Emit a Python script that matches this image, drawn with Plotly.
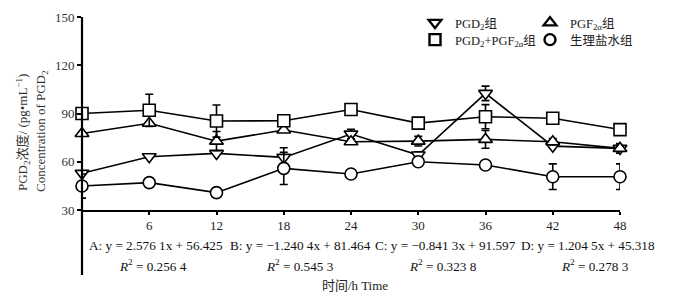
import plotly.graph_objects as go

time_h = [0, 6, 12, 18, 24, 30, 36, 42, 48]

pgd2 = [52.8, 63.1, 65.2, 62.7, 77.2, 64.2, 102.5, 69.7, 68.3]
pgd2_err = [0, 0, 0, 6, 3, 2, 4.5, 0, 2]
pgf2a = [77.6, 83.9, 72.8, 79.7, 72.4, 72.8, 73.9, 72.4, 68.3]
pgf2a_err = [0, 0, 6, 0, 0, 3, 5.5, 2, 3]
combo = [90, 92, 85.3, 85.5, 92.5, 84, 88, 87, 80]
combo_err = [0, 10, 10, 0, 3, 0, 7.5, 0, 0]
saline = [44.9, 47, 40.8, 55.9, 52.4, 60, 58, 50.7, 50.7]
saline_err = [7.5, 0, 2, 10, 0, 2, 0, 8, 8]

series_names = ["PGD<sub>2</sub>组", "PGF<sub>2α</sub>组", "PGD<sub>2</sub>+PGF<sub>2α</sub>组", "生理盐水组"]
series_symbols = ["triangle-down", "triangle-up", "square", "circle"]
series_legend = ["legend", "legend2", "legend3", "legend4"]

x_ticks = [6, 12, 18, 24, 30, 36, 42, 48]
y_ticks = [30, 60, 90, 120, 150]

eq_lines = ["A: y = 2.576 1x + 56.425", "B: y = \u22121.240 4x + 81.464",
            "C: y = \u22120.841 3x + 91.597", "D: y = 1.204 5x + 45.318"]
r2_lines = ["<i>R</i><sup>2</sup> = 0.256 4", "<i>R</i><sup>2</sup> = 0.545 3",
            "<i>R</i><sup>2</sup> = 0.323 8", "<i>R</i><sup>2</sup> = 0.278 3"]

FONT = "Liberation Serif, Noto Sans CJK SC, serif"
W, H = 673, 299
L, R, T, B = 82, 53, 17, 89
PW, PH = W - L - R, H - T - B

fig = go.Figure()
datasets = [(pgd2, pgd2_err), (pgf2a, pgf2a_err), (combo, combo_err), (saline, saline_err)]
for (vals, err), sym in zip(datasets, series_symbols):
    fig.add_trace(go.Scatter(
        x=time_h, y=vals, mode="lines+markers", showlegend=False, cliponaxis=False,
        line=dict(color="black", width=1.6),
        marker=dict(symbol=sym, size=12, color="white", line=dict(color="black", width=1.6)),
        error_y=dict(type="data", array=err, color="black", thickness=1.6, width=4),
    ))

for name, sym, lg in zip(series_names, series_symbols, series_legend):
    fig.add_trace(go.Scatter(
        x=[None], y=[None], mode="markers", name=name, showlegend=True, legend=lg,
        marker=dict(symbol=sym, size=11, color="white", line=dict(color="black", width=2.4)),
    ))

legend_common = dict(orientation="v", xanchor="left", yanchor="top",
                     xref="container", yref="container", itemwidth=30,
                     tracegroupgap=0, bgcolor="rgba(0,0,0,0)",
                     font=dict(family=FONT, size=12.5, color="#222"))

col_x = [415, 530]
row_y = [8, 25]
fig.update_layout(
    width=W, height=H,
    margin=dict(l=L, r=R, t=T, b=B, autoexpand=False),
    paper_bgcolor="white", plot_bgcolor="white",
    font=dict(family=FONT, size=13, color="#222"),
    showlegend=True,
    legend=dict(x=col_x[0] / W, y=1 - row_y[0] / H, **legend_common),
    legend2=dict(x=col_x[1] / W, y=1 - row_y[0] / H, **legend_common),
    legend3=dict(x=col_x[0] / W, y=1 - row_y[1] / H, **legend_common),
    legend4=dict(x=col_x[1] / W, y=1 - row_y[1] / H, **legend_common),
    xaxis=dict(range=[0, 48], tickvals=x_ticks, showgrid=False, zeroline=False,
               showline=True, linecolor="black", linewidth=1.5, automargin=False,
               ticks="outside", ticklen=3, tickcolor="black", tickwidth=1.5,
               tickfont=dict(family=FONT, size=13, color="#222")),
    yaxis=dict(range=[30, 150], tickvals=y_ticks, showgrid=False, zeroline=False,
               showline=False, automargin=False,
               ticks="outside", ticklen=4, tickcolor="black", tickwidth=1.5,
               tickfont=dict(family=FONT, size=13, color="#333")),
)

# y axis line extended below the x axis
fig.add_shape(type="line", xref="paper", yref="paper", x0=0, x1=0, y0=1.0, y1=-(275 - 210) / PH,
              line=dict(color="black", width=2.2))

# y axis title (two lines)
fig.add_annotation(text="PGD<sub>2</sub>浓度/ (pg•mL<sup>\u22121</sup>)", xref="paper", yref="paper",
                   x=(23 - L) / PW, y=1 - (133 - T) / PH, textangle=-90, showarrow=False,
                   xanchor="center", yanchor="middle",
                   font=dict(family=FONT, size=13, color="#333"))
fig.add_annotation(text="Concentration of PGD<sub>2</sub>", xref="paper", yref="paper",
                   x=(41 - L) / PW, y=1 - (131 - T) / PH, textangle=-90, showarrow=False,
                   xanchor="center", yanchor="middle",
                   font=dict(family=FONT, size=13, color="#333"))

eq_x_px = [87, 228, 373, 519]
r2_x_px = [153, 300, 443, 595]
for t, px in zip(eq_lines, eq_x_px):
    fig.add_annotation(text=t, xref="paper", yref="paper", x=(px - L) / PW, y=-(245 - 210) / PH,
                       xanchor="left", yanchor="middle", showarrow=False,
                       font=dict(family=FONT, size=13.2, color="#111"))
for t, px in zip(r2_lines, r2_x_px):
    fig.add_annotation(text=t, xref="paper", yref="paper", x=(px - L) / PW, y=-(265 - 210) / PH,
                       xanchor="center", yanchor="middle", showarrow=False,
                       font=dict(family=FONT, size=13.2, color="#111"))

fig.add_annotation(text="时间/h Time", xref="paper", yref="paper", x=(355 - L) / PW,
                   y=-(285 - 210) / PH, xanchor="center", yanchor="middle", showarrow=False,
                   font=dict(family=FONT, size=13, color="#222"))

fig.write_html("out.html", config={"displayModeBar": False},
               post_script="document.body.style.margin='0px';")
